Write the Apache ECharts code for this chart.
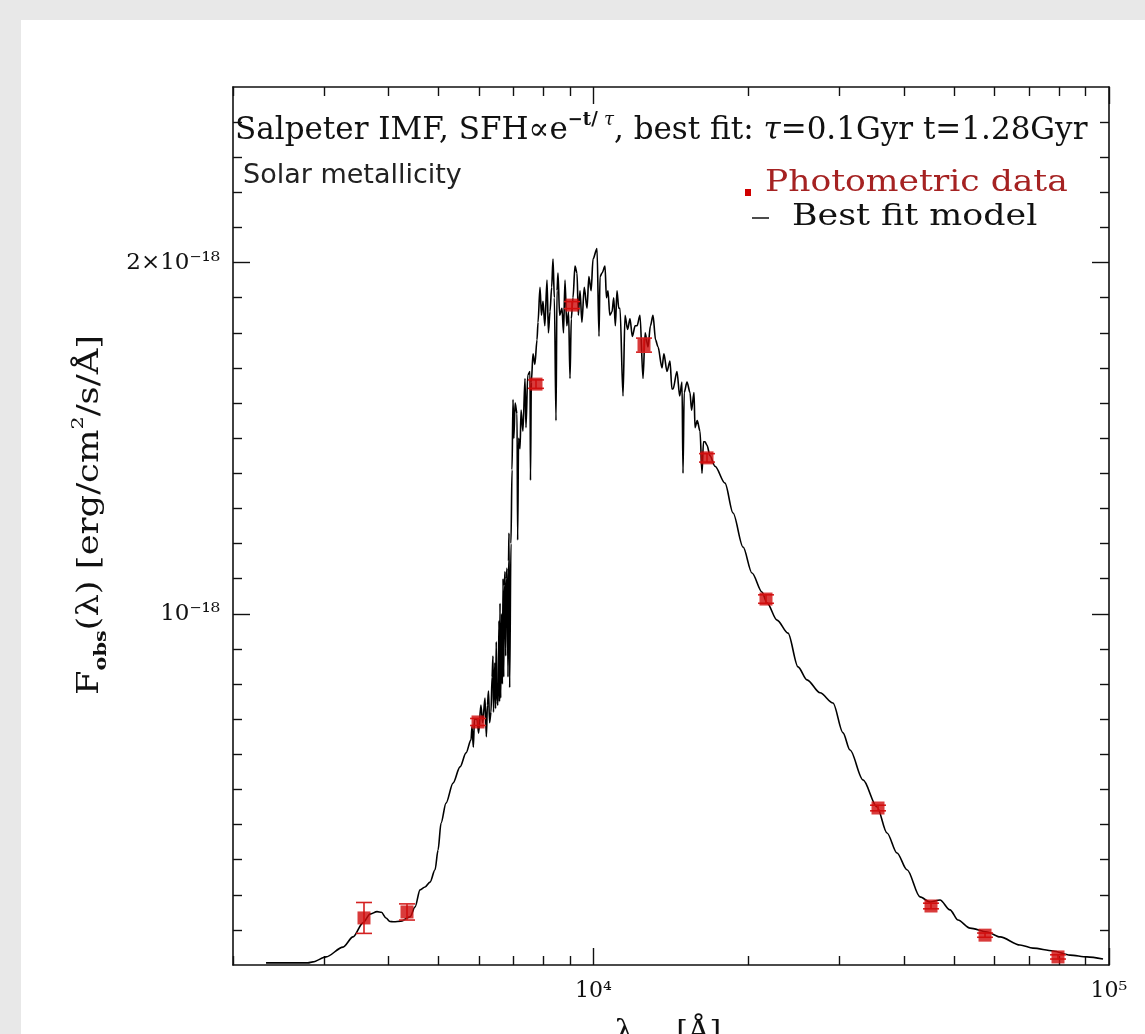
<!DOCTYPE html>
<html>
<head>
<meta charset="utf-8">
<script src="https://cdn.jsdelivr.net/npm/echarts@6/dist/echarts.min.js"></script>
<style>
html,body{margin:0;padding:0;background:#e8e8e8;}
#chart{width:1145px;height:1034px;}
</style>
</head>
<body>
<div id="chart"></div>
<script>
// Best-fit model spectrum: wavelength [Å] and flux [1e-18 erg/cm²/s/Å]
const modelLambda = [2318,2795,2858,3030,3269,3418,3574,3688,3805,3880,3960,4030,4100,4235,4409,4509,4611,4715,4821,4930,4997,5064,5178,5343,5512,5662,5790,5816,5850,5880,5947,5990,6050,6100,6163,6200,6230,6260,6290,6330,6360,6387,6400,6440,6460,6480,6500,6530,6560,6575,6590,6610,6640,6660,6680,6700,6720,6739,6760,6780,6800,6830,6845,6860,6880,6920,6953,6984,7010,7050,7110,7130,7160,7206,7240,7300,7368,7400,7460,7535,7550,7580,7636,7700,7774,7809,7879,7930,7985,8050,8129,8180,8238,8300,8349,8400,8462,8500,8538,8600,8692,8750,8809,8880,8950,9008,9060,9129,9211,9294,9350,9420,9500,9600,9719,9800,9900,9983,10163,10254,10300,10392,10532,10600,10674,10760,10867,10950,11030,11112,11200,11262,11414,11516,11650,11776,11900,12050,12150,12314,12480,12600,12762,12900,13050,13200,13345,13585,13700,13892,14079,14200,14269,14526,14700,14854,14921,15000,15190,15395,15500,15672,15742,15900,16098,16242,16350,16461,16609,16832,17212,18001,18657,19511,20306,21233,21712,22706,23848,24938,25960,27515,29157,30487,31456,33334,35487,37108,38803,40576,42998,44963,47017,49166,50954,53760,58002,61471,67204,71220,77897,84023,90637,97359];
const modelFlux = [0.006,0.006,0.009,0.023,0.051,0.080,0.120,0.145,0.152,0.150,0.134,0.124,0.123,0.125,0.137,0.165,0.214,0.222,0.236,0.271,0.327,0.404,0.461,0.518,0.564,0.604,0.641,0.680,0.620,0.700,0.700,0.660,0.740,0.690,0.760,0.650,0.740,0.780,0.690,0.720,0.820,0.880,0.720,0.860,0.730,0.920,0.750,0.740,0.980,0.750,1.030,0.760,1.000,0.800,1.100,0.820,1.080,1.120,0.880,1.100,1.130,0.820,1.150,1.230,0.790,1.200,1.410,1.610,1.500,1.600,1.570,1.210,1.500,1.470,1.580,1.520,1.670,1.530,1.680,1.690,1.380,1.660,1.740,1.710,1.780,1.830,1.930,1.850,1.890,1.820,1.950,1.800,1.860,1.930,2.010,1.900,1.550,1.920,1.970,1.850,1.870,1.800,1.950,1.820,1.860,1.670,1.840,1.900,1.990,1.970,1.850,1.920,1.830,1.930,1.870,1.960,1.920,2.010,2.040,1.790,1.960,1.970,1.990,1.900,1.920,1.850,1.860,1.900,1.820,1.920,1.870,1.870,1.620,1.850,1.810,1.840,1.790,1.820,1.820,1.850,1.670,1.800,1.760,1.820,1.850,1.780,1.760,1.700,1.740,1.690,1.720,1.640,1.640,1.690,1.620,1.660,1.400,1.630,1.660,1.630,1.580,1.630,1.530,1.550,1.520,1.400,1.490,1.490,1.480,1.450,1.420,1.372,1.287,1.190,1.116,1.062,1.031,0.982,0.945,0.849,0.812,0.775,0.746,0.661,0.612,0.527,0.450,0.376,0.319,0.271,0.194,0.179,0.185,0.157,0.128,0.105,0.094,0.080,0.057,0.048,0.040,0.028,0.023,0.017];

// Photometric data
const photLambda = [3590,4350,5974,7739,9090,12536,16609,21616,35646,45164,57486,79634];
const photFlux   = [0.134,0.151,0.692,1.654,1.879,1.765,1.444,1.042,0.447,0.168,0.085,0.023];
const photErr    = [0.044,0.023,0.010,0.012,0.010,0.020,0.012,0.012,0.008,0.008,0.006,0.006];

// Axis ticks
const xRange = [2000, 100000];
const xMinorTicks = [2000,3000,4000,5000,6000,7000,8000,9000,20000,30000,40000,50000,60000,70000,80000,90000];
const xMajorTicks = [10000, 100000];
const xMajorLabels = ['10⁴', '10⁵'];
const yRange = [0, 2.5];
const yMinorTicks = [0.1,0.2,0.3,0.4,0.5,0.6,0.7,0.8,0.9,1.1,1.2,1.3,1.4,1.5,1.6,1.7,1.8,1.9,2.1,2.2,2.3,2.4];
const yMajorTicks = [1, 2];
const yMajorLabels = ['10⁻¹⁸', '2×10⁻¹⁸'];

const lg = v => Math.log10(v);
const SERIF = "'DejaVu Serif', serif";
const AXC = '#111';

function xAx(pos, major, withLine) {
  return {
    type: 'value', position: pos, min: lg(xRange[0]), max: lg(xRange[1]),
    splitLine: {show: false},
    axisLine: {show: withLine, onZero: false, lineStyle: {color: AXC, width: 1.6}},
    axisTick: {show: true, inside: true, length: major ? 17 : 9, lineStyle: {color: AXC, width: 1.4},
      customValues: (major ? xMajorTicks : xMinorTicks).map(lg)},
    axisLabel: (major && pos === 'bottom') ? {
      show: true, customValues: xMajorTicks.map(lg), margin: 15,
      fontFamily: SERIF, fontSize: 22, color: '#111',
      formatter: v => { const i = xMajorTicks.findIndex(t => Math.abs(lg(t) - v) < 1e-6); return i >= 0 ? xMajorLabels[i] : ''; }
    } : {show: false}
  };
}
function yAx(pos, major, withLine) {
  return {
    type: 'value', position: pos, min: yRange[0], max: yRange[1],
    splitLine: {show: false},
    axisLine: {show: withLine, onZero: false, lineStyle: {color: AXC, width: 1.6}},
    axisTick: {show: true, inside: true, length: major ? 17 : 9, lineStyle: {color: AXC, width: 1.4},
      customValues: major ? yMajorTicks : yMinorTicks},
    axisLabel: (major && pos === 'left') ? {
      show: true, customValues: yMajorTicks, margin: 13,
      fontFamily: SERIF, fontSize: 23, color: '#111',
      formatter: v => { const i = yMajorTicks.findIndex(t => Math.abs(t - v) < 1e-6); return i >= 0 ? yMajorLabels[i] : ''; }
    } : {show: false}
  };
}

const chart = echarts.init(document.getElementById('chart'), null, {renderer: 'canvas'});
chart.setOption({
  animation: false,
  backgroundColor: '#e8e8e8',
  grid: {left: 233, right: 36, top: 87, bottom: 69, containLabel: false},
  xAxis: [xAx('bottom', false, true), xAx('bottom', true, false), xAx('top', false, true), xAx('top', true, false)],
  yAxis: [yAx('left', false, true), yAx('left', true, false), yAx('right', false, true), yAx('right', true, false)],
  graphic: [
    {type: 'rect', z: -10, shape: {x: 21, y: 20, width: 1124, height: 1014}, style: {fill: '#ffffff'}},
    {type: 'text', z: 10, x: 235, y: 131, style: {
      text: '{a|Salpeter IMF, SFH∝e}{s|−t/ }{t|τ}{a|, best fit: }{i|τ}{a|=0.1Gyr t=1.28Gyr}',
      verticalAlign: 'middle', align: 'left',
      rich: {
        a: {fontFamily: SERIF, fontSize: 31, fill: '#111', lineHeight: 40},
        i: {fontFamily: SERIF, fontSize: 31, fontStyle: 'italic', fill: '#111', lineHeight: 40},
        s: {fontFamily: SERIF, fontSize: 18, fontWeight: 'bold', fill: '#111', lineHeight: 24, verticalAlign: 'top'},
        t: {fontFamily: SERIF, fontSize: 18, fontStyle: 'italic', fill: '#111', lineHeight: 24, verticalAlign: 'top'}
      }}},
    {type: 'text', z: 10, x: 243, y: 176, style: {
      text: 'Solar metallicity', fontFamily: "'DejaVu Sans', sans-serif", fontSize: 27, fill: '#222',
      verticalAlign: 'middle', align: 'left'}},
    {type: 'rect', z: 10, shape: {x: 745, y: 189, width: 6, height: 7}, style: {fill: '#d00000'}},
    {type: 'text', z: 10, x: 765, y: 183, scaleX: 1.15, style: {
      text: 'Photometric data', fontFamily: SERIF, fontSize: 30, fill: '#a52222',
      verticalAlign: 'middle', align: 'left'}},
    {type: 'line', z: 10, shape: {x1: 752, y1: 218, x2: 769, y2: 218}, style: {stroke: '#111', lineWidth: 1.5}},
    {type: 'text', z: 10, x: 792, y: 217, scaleX: 1.16, style: {
      text: 'Best fit model', fontFamily: SERIF, fontSize: 30, fill: '#111',
      verticalAlign: 'middle', align: 'left'}},
    {type: 'text', z: 10, x: 90, y: 515, rotation: Math.PI / 2, scaleX: 1.22, style: {
      text: '{a|F}{b|obs}{a|(λ) [erg/cm}{p|2}{a|/s/Å]}',
      align: 'center', verticalAlign: 'middle',
      rich: {
        a: {fontFamily: SERIF, fontSize: 29, fill: '#111', lineHeight: 40},
        b: {fontFamily: SERIF, fontSize: 17, fontWeight: 'bold', fill: '#111', lineHeight: 27, verticalAlign: 'bottom'},
        p: {fontFamily: SERIF, fontSize: 17, fill: '#111', lineHeight: 25, verticalAlign: 'top'}
      }}},
    {type: 'text', z: 10, x: 668, y: 1013, style: {
      text: '{a|λ}{b|obs}{a| [Å]}', align: 'center', verticalAlign: 'top',
      rich: {
        a: {fontFamily: SERIF, fontSize: 30, fill: '#111', lineHeight: 40},
        b: {fontFamily: SERIF, fontSize: 17, fontWeight: 'bold', fill: '#111', lineHeight: 26, verticalAlign: 'bottom'}
      }}}
  ],
  series: [
    {
      type: 'line', name: 'Best fit model', xAxisIndex: 0, yAxisIndex: 0,
      data: modelLambda.map((l, i) => [lg(l), modelFlux[i]]),
      showSymbol: false, symbol: 'none', smooth: 0.3, smoothMonotone: 'x',
      lineStyle: {color: '#000', width: 1.6}, z: 3, clip: true
    },
    {
      type: 'custom', name: 'errors', xAxisIndex: 0, yAxisIndex: 0,
      data: photLambda.map((l, i) => [lg(l), photFlux[i], photErr[i]]),
      renderItem: (params, api) => {
        const x = api.value(0), y = api.value(1), e = api.value(2);
        const lo = api.coord([x, y - e]), hi = api.coord([x, y + e]);
        const st = {stroke: '#d42020', lineWidth: 1.6};
        return {type: 'group', children: [
          {type: 'line', shape: {x1: lo[0], y1: lo[1], x2: hi[0], y2: hi[1]}, style: st},
          {type: 'line', shape: {x1: lo[0] - 8, y1: lo[1], x2: lo[0] + 8, y2: lo[1]}, style: st},
          {type: 'line', shape: {x1: hi[0] - 8, y1: hi[1], x2: hi[0] + 8, y2: hi[1]}, style: st}
        ]};
      }, z: 4
    },
    {
      type: 'scatter', name: 'Photometric data', xAxisIndex: 0, yAxisIndex: 0,
      data: photLambda.map((l, i) => [lg(l), photFlux[i]]),
      symbol: 'rect', symbolSize: 13, itemStyle: {color: '#d00a0a'}, z: 5
    }
  ]
});
</script>
</body>
</html>
